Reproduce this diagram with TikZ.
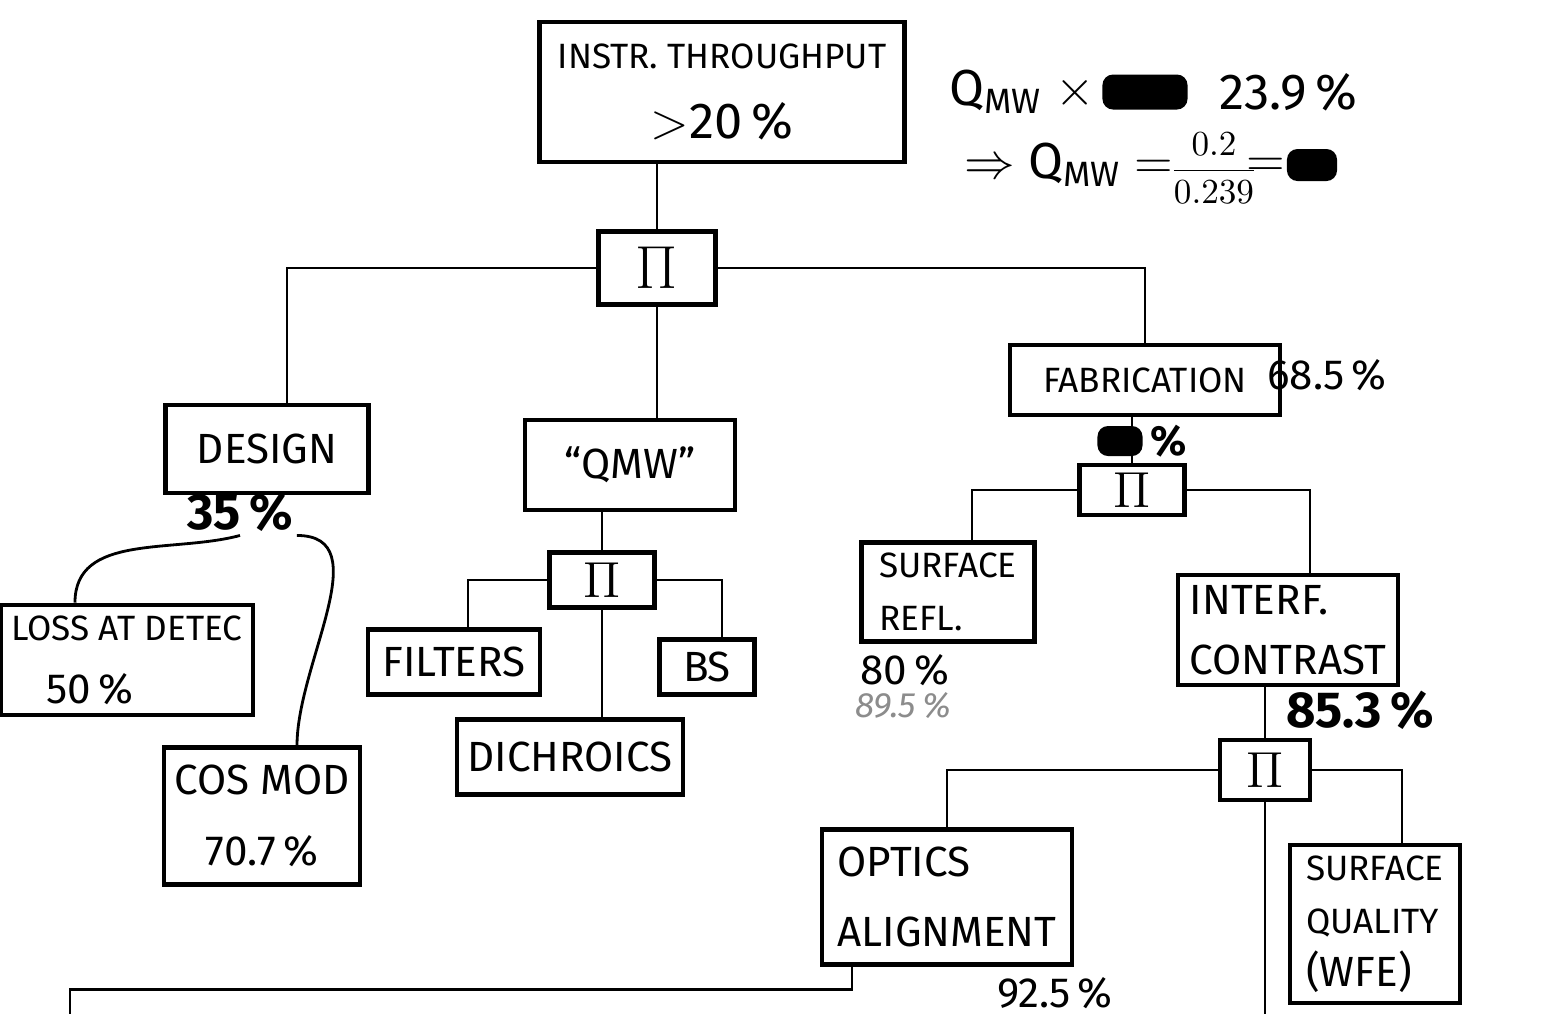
\documentclass[tikz,border=0pt]{standalone}
\usepackage{fontspec}
\setmainfont{Fira Sans}
\usepackage{amsmath}
\usetikzlibrary{positioning}

\begin{document}
\begin{tikzpicture}[x=0.01cm,y=-0.01cm,
  box/.style={draw,line width=1.2pt,align=center,inner sep=3pt,font=\large},
  prod/.style={draw,line width=1.2pt,inner sep=0pt,font=\Large},
  val/.style={font=\large,inner sep=1pt},
  faint/.style={font=\normalsize\itshape,text=black!45,inner sep=1pt},
  blot/.style={fill=black,rounded corners=3pt,inner sep=0pt},
  link/.style={line width=0.8pt}]
  \useasboundingbox (0,0) rectangle (1553,1014);

  \node[box,font=\normalsize,minimum width=3.65cm,minimum height=1.4cm] (thru) at (722,92)
    {INSTR.\ THROUGHPUT\\[8pt]{\Large $>$20\,\%}};
  \node[prod,font=\LARGE,minimum width=1.17cm,minimum height=0.73cm] (p1) at (657,268) {$\Pi$};

  \node[box,minimum width=2.03cm,minimum height=0.88cm] (design) at (267,449) {DESIGN};
  \node[val,font=\Large\bfseries] (designv) at (240,512) {35\,\%};
  \node[box,font=\normalsize,align=left,minimum width=2.35cm,minimum height=1.1cm] (loss) at (127,660)
    {LOSS AT DETEC\\[6pt]\quad{\large 50\,\%}};
  \node[box,minimum width=1.95cm,minimum height=1.37cm] (cos) at (262,816) {COS MOD\\[6pt]70.7\,\%};

  \node[box,minimum width=2.1cm,minimum height=0.9cm] (qmw) at (630,465) {“QMW”};
  \node[prod,minimum width=1.05cm,minimum height=0.55cm] (p2) at (602,580) {$\Pi$};
  \node[box,minimum width=1.72cm,minimum height=0.65cm] (filters) at (454,662) {FILTERS};
  \node[box,minimum width=0.95cm,minimum height=0.55cm] (bs) at (707,667) {BS};
  \node[box,minimum width=2.15cm,minimum height=0.75cm] (dich) at (570,757) {DICHROICS};

  \node[box,font=\normalsize,minimum width=2.7cm,minimum height=0.7cm] (fab) at (1145,380) {FABRICATION};
  \node[val] (fabv) at (1327,375) {68.5\,\%};
  \node[blot,minimum width=0.45cm,minimum height=0.3cm] (fabx) at (1120,441) {};
  \node[val,font=\large\bfseries,right=1pt of fabx] (fabp) {\%};
  \node[prod,minimum width=1.05cm,minimum height=0.5cm] (p3) at (1132,490) {$\Pi$};

  \node[box,font=\normalsize,align=left,minimum width=1.73cm,minimum height=0.95cm] (refl) at (948,592) {SURFACE\\[3pt]REFL.};
  \node[val] (reflv) at (905,670) {80\,\%};
  \node[faint] (reflw) at (903,706) {89.5\,\%};

  \node[box,align=left,minimum width=2.2cm,minimum height=1.02cm] (interf) at (1288,630) {INTERF.\\[3pt]CONTRAST};
  \node[val,font=\Large\bfseries] (interfv) at (1360,710) {85.3\,\%};
  \node[prod,minimum width=0.9cm,minimum height=0.6cm] (p4) at (1265,770) {$\Pi$};

  \node[box,align=left,minimum width=2.5cm,minimum height=1.35cm] (optics) at (947,897) {OPTICS\\[6pt]ALIGNMENT};
  \node[val] (opticsv) at (1055,993) {92.5\,\%};
  \node[box,font=\normalsize,align=left,minimum width=1.7cm,minimum height=1.52cm] (wfe) at (1375,924) {SURFACE\\[3pt]QUALITY\\[3pt]{\large(WFE)}};
  \coordinate (down1) at (1250,1014);
  \coordinate (down2) at (70,1014);

  \node[val,anchor=west] (qa) at (945,92) {\Large Q\textsubscript{MW} $\times$};
  \node[blot,minimum width=0.85cm,minimum height=0.35cm] (qx) at (1145,92) {};
  \node[val,anchor=west,font=\Large] (qb) at (1215,92) {23.9\,\%};
  \node[val,anchor=west,font=\Large] (qc) at (960,165) {$\Rightarrow$ Q\textsubscript{MW} $=$};
  \node[val,font=\normalsize] (qfrac) at (1214,168) {$\dfrac{0.2}{0.239}$};
  \node[val,font=\Large] (qeq) at (1266,167) {$=$};
  \node[blot,minimum width=0.5cm,minimum height=0.32cm] (qy) at (1312,165) {};

  \draw[link] (p1.north) -- (p1.north |- thru.south);
  \draw[link] (p1.west) -| ([xshift=0.2cm]design.north);
  \draw[link] (p1.south) -- (p1.south |- qmw.north);
  \draw[link] (p1.east) -| (fab.north);

  \draw[link] (designv.south) to[out=195,in=90] ([xshift=-0.52cm]loss.north);
  \draw[link] (designv.south east) to[out=0,in=90] ([xshift=0.35cm]cos.north);

  \draw[link] (p2.north) -- (p2.north |- qmw.south);
  \draw[link] (p2.west) -| ([xshift=0.14cm]filters.north);
  \draw[link] (p2.east) -| ([xshift=0.15cm]bs.north);
  \draw[link] (p2.south) -- (p2.south |- dich.north);

  \draw[link] (p3.north) -- (p3.north |- fab.south);
  \draw[link] (p3.west) -| ([xshift=0.24cm]refl.north);
  \draw[link] (p3.east) -| ([xshift=0.22cm]interf.north);

  \draw[link] (p4.north) -- (p4.north |- interf.south);
  \draw[link] (p4.west) -| (optics.north);
  \draw[link] (p4.east) -| ([xshift=0.27cm]wfe.north);
  \draw[link] (p4.south) -- (p4.south |- down1);
  \draw[link] ([xshift=-0.95cm]optics.south) -- ++(0,23) -| (down2);
\end{tikzpicture}
\end{document}
